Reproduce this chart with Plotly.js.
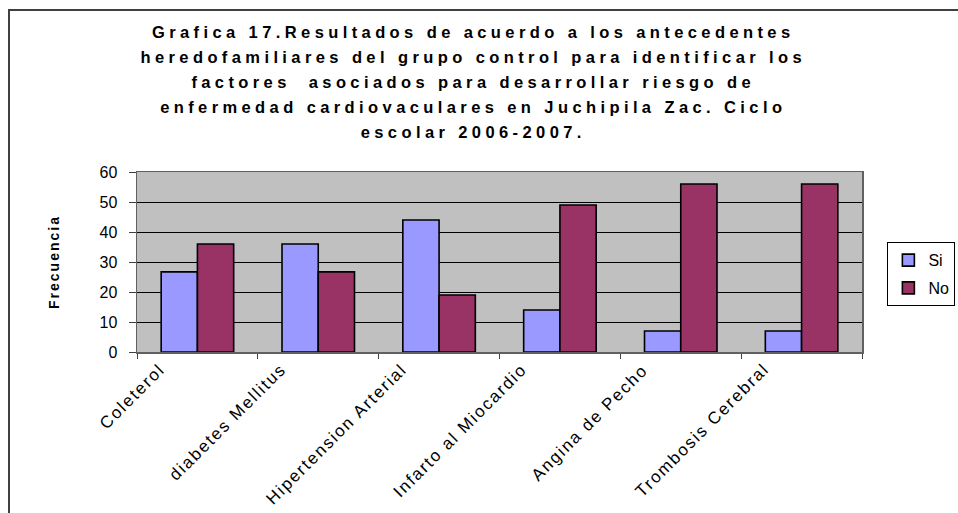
<!DOCTYPE html>
<html>
<head>
<meta charset="utf-8">
<script src="https://cdn.plot.ly/plotly-3.0.1.min.js"></script>
<style>
  html, body { margin: 0; padding: 0; background: #fff; overflow: hidden; }
  #wrap { position: relative; width: 958px; height: 513px; overflow: hidden; }
  #chart { position: absolute; left: 0; top: 0; width: 958px; height: 513px; }
  #frame { position: absolute; left: 8px; top: 9px; width: 1000px; height: 600px;
           border-left: 2px solid #404040; border-top: 2px solid #404040; pointer-events: none; }
  .gtitle { letter-spacing: 4.4px; }
  .ytitle { letter-spacing: 2px; }
  .annotation-text { letter-spacing: 1.8px; }
</style>
</head>
<body>
<div id="wrap">
  <div id="chart"></div>
  <div id="frame"></div>
</div>
<script>
// ---- data ----
const categories = ['Coleterol', 'diabetes Mellitus', 'Hipertension Arterial',
                    'Infarto al Miocardio', 'Angina de Pecho', 'Trombosis Cerebral'];
const siValues = [26.7, 36, 44, 14, 7, 7];
const noValues = [36, 26.7, 19, 49, 56, 56];
const seriesNames = ['Si', 'No'];
const yTickValues = [0, 10, 20, 30, 40, 50, 60];
const titleLines = [
  'Grafica 17.Resultados de acuerdo a los antecedentes',
  'heredofamiliares del grupo control para identificar los',
  'factores  asociados para desarrollar riesgo de',
  'enfermedad cardiovaculares en Juchipila Zac. Ciclo',
  'escolar 2006-2007.'
];
const yTitle = 'Frecuencia';

const FONT = 'Arial, "Liberation Sans", Helvetica, sans-serif';

const traces = [
  { type: 'bar', name: seriesNames[0], x: categories, y: siValues,
    legendgroup: 'a',
    marker: { color: '#9999FF', line: { color: '#000000', width: 1.6 } } },
  { type: 'bar', name: seriesNames[1], x: categories, y: noValues,
    legendgroup: 'b',
    marker: { color: '#993366', line: { color: '#000000', width: 1.6 } } }
];

const labelAnnotations = categories.map(c => ({
  x: c, xref: 'x', y: 0, yref: 'paper',
  text: c, showarrow: false, textangle: -45,
  xanchor: 'right', yanchor: 'top',
  xshift: -26, yshift: -5,
  font: { family: FONT, size: 17, color: '#000' }
}));

const layout = {
  width: 958, height: 513,
  paper_bgcolor: 'rgba(0,0,0,0)',
  plot_bgcolor: '#C0C0C0',
  margin: { l: 137, r: 96, t: 172, b: 161, pad: 0, autoexpand: false },
  font: { family: FONT, size: 14, color: '#000' },
  title: {
    text: titleLines.join('<br>'),
    font: { family: FONT, size: 16.5, color: '#000', weight: 'bold' },
    x: 0.494, xref: 'container', xanchor: 'center',
    y: 0.925, yref: 'container', yanchor: 'top'
  },
  barmode: 'group', bargap: 0.4, bargroupgap: 0,
  showlegend: true,
  legend: {
    x: 1.035, xanchor: 'left', y: 0.61, yanchor: 'top',
    bgcolor: '#FFFFFF', bordercolor: '#000000', borderwidth: 1,
    font: { family: FONT, size: 16, color: '#000' },
    traceorder: 'grouped', tracegroupgap: 4,
    itemwidth: 30
  },
  xaxis: {
    type: 'category', showticklabels: false, range: [-0.5, categories.length - 0.5],
    autorange: false,
    ticks: 'outside', tickson: 'boundaries', ticklen: 5, tickcolor: '#404040', tickwidth: 1,
    showline: true, linecolor: '#606060', linewidth: 1.5, mirror: true,
    showgrid: false, zeroline: false, fixedrange: true
  },
  yaxis: {
    range: [0, 60], tickvals: yTickValues, ticktext: yTickValues.map(String),
    ticks: 'outside', ticklen: 7, tickcolor: '#404040', tickwidth: 1,
    ticklabelstandoff: 8,
    tickfont: { family: FONT, size: 16, color: '#000' },
    showline: true, linecolor: '#606060', linewidth: 1.5, mirror: true,
    showgrid: true, gridcolor: '#000000', gridwidth: 1,
    zeroline: false, fixedrange: true,
    title: { text: yTitle, standoff: 36,
             font: { family: FONT, size: 14, color: '#000', weight: 'bold' } }
  },
  annotations: labelAnnotations
};

Plotly.newPlot('chart', traces, layout, { displayModeBar: false, staticPlot: true }).then(() => {
  // widen the title line spacing to match the original layout
  document.querySelectorAll('.gtitle tspan.line').forEach(t => {
    const dy = t.getAttribute('dy');
    if (dy && dy.endsWith('em')) {
      const v = parseFloat(dy);
      t.setAttribute('dy', (v * 1.16).toFixed(3) + 'em');
    }
  });
});
</script>
</body>
</html>
